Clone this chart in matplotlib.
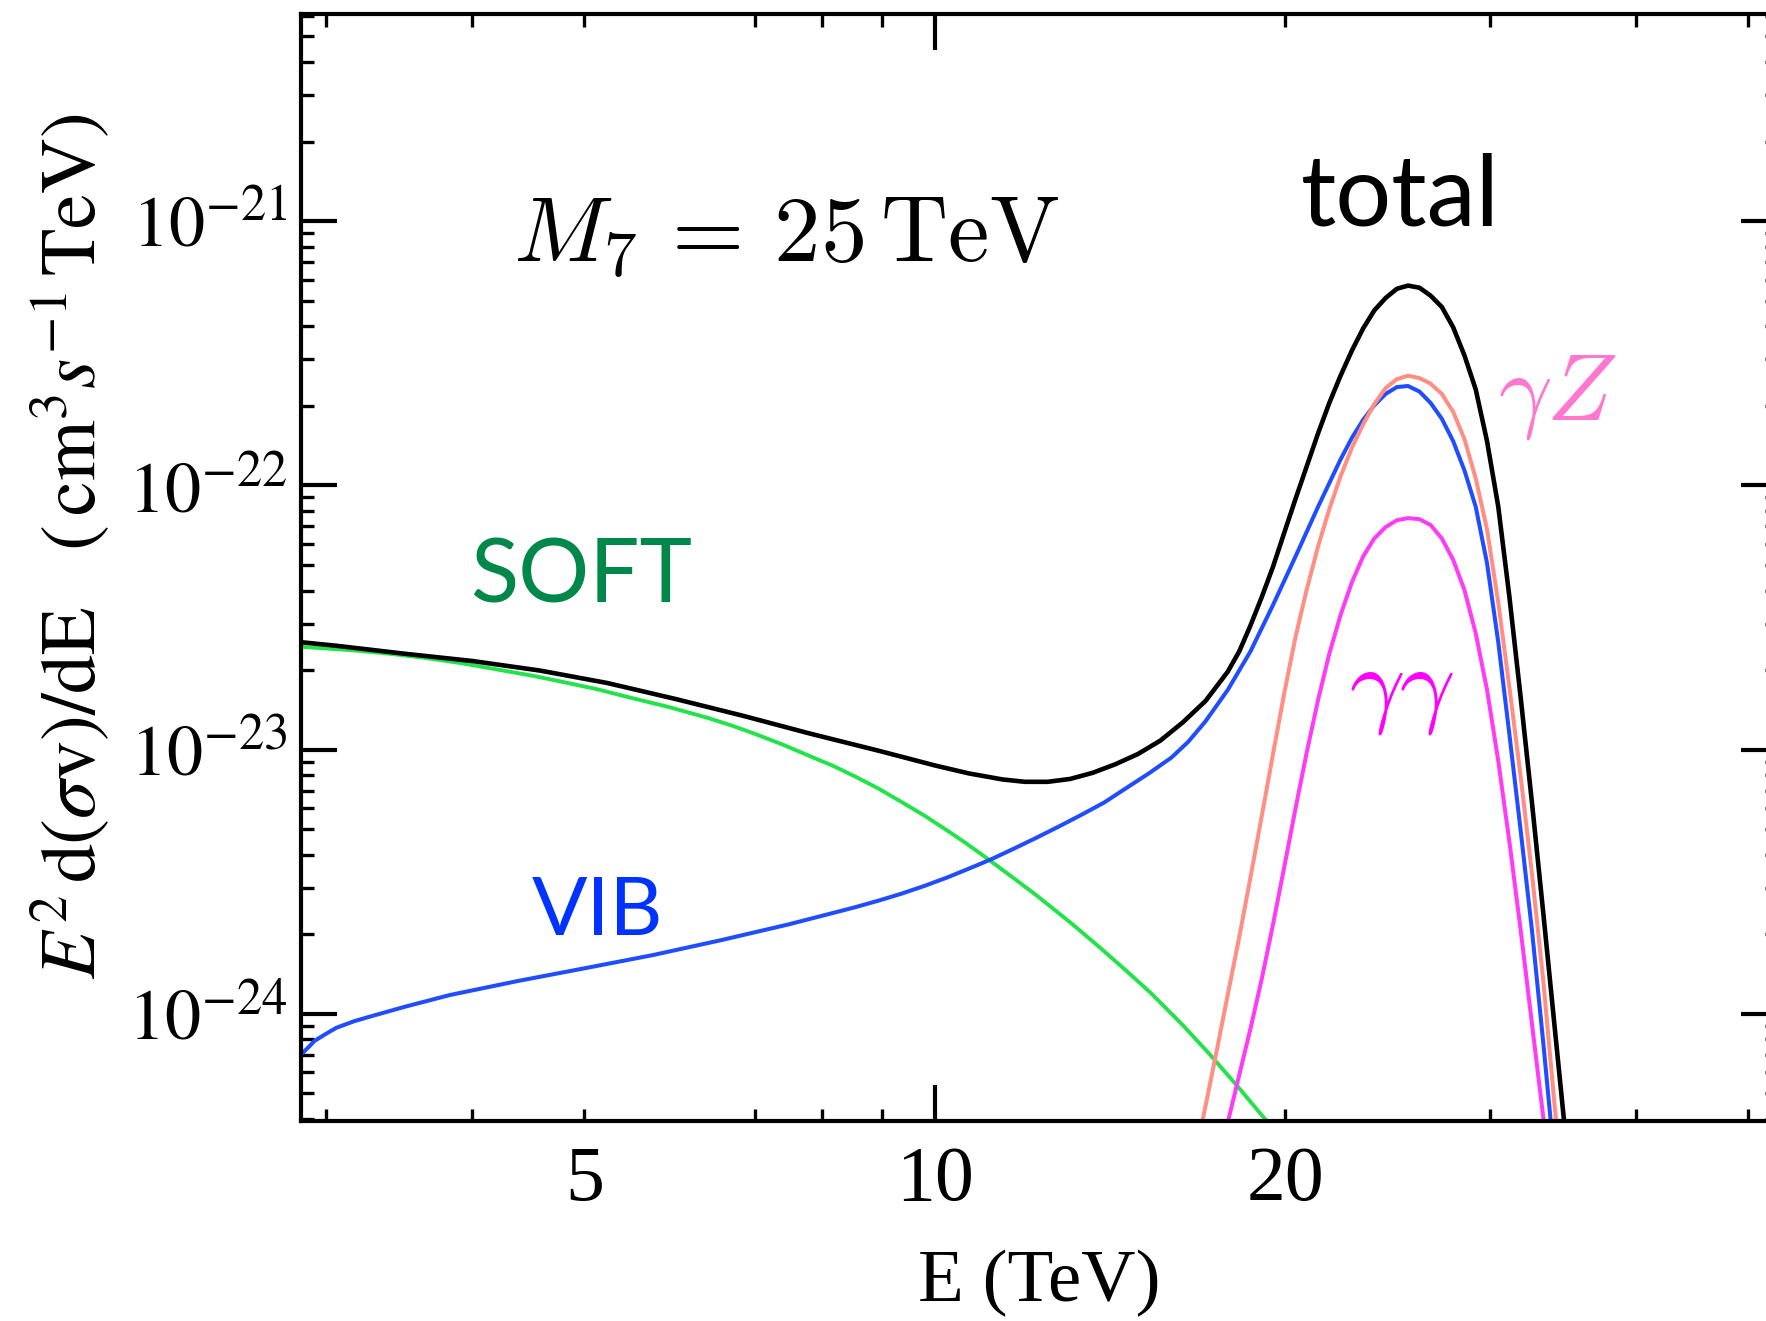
import numpy as np
import matplotlib
matplotlib.use("Agg")
import matplotlib.pyplot as plt
from matplotlib.ticker import FixedLocator, FixedFormatter, FuncFormatter, LogLocator, NullFormatter

# Spectrum E^2 d(sigma v)/dE for M7 = 25 TeV
# energies in TeV, fluxes given as log10 of cm^3 s^-1 TeV

total_E = [2.86, 3.06, 3.50, 4.01, 4.58, 5.23, 5.98, 6.84, 7.82, 8.94, 10.00, 10.69, 11.43,
           11.95, 12.50, 13.07, 13.66, 14.28, 14.94, 15.62, 16.33, 17.08, 17.85, 18.26, 18.67,
           19.09, 19.52, 19.96, 20.41, 20.87, 21.34, 21.82, 22.31, 22.81, 23.33, 23.85, 24.39,
           24.94, 25.50, 26.08, 26.66, 27.26, 27.88, 28.51, 29.15, 29.81, 30.48, 31.16, 31.87,
           32.58, 33.32, 34.07, 34.84]
total_logflux = [-22.594, -22.607, -22.637, -22.665, -22.701, -22.748, -22.808, -22.872, -22.940,
                 -23.004, -23.060, -23.090, -23.113, -23.122, -23.122, -23.111, -23.088, -23.056,
                 -23.017, -22.966, -22.897, -22.816, -22.705, -22.628, -22.530, -22.423, -22.308,
                 -22.179, -22.051, -21.927, -21.803, -21.688, -21.585, -21.491, -21.406, -21.338,
                 -21.291, -21.256, -21.244, -21.252, -21.282, -21.325, -21.402, -21.509, -21.637,
                 -21.833, -22.081, -22.423, -22.808, -23.201, -23.620, -24.047, -24.474]

vib_E = [2.86, 2.90, 2.93, 3.00, 3.06, 3.17, 3.28, 3.50, 3.83, 4.38, 5.01, 5.72, 6.54, 7.48,
         8.18, 8.55, 8.94, 9.35, 9.78, 10.22, 10.69, 11.18, 11.69, 12.22, 12.78, 13.36, 13.97,
         14.61, 15.27, 15.97, 16.51, 17.08, 17.85, 18.67, 19.52, 20.41, 21.34, 22.31, 22.81,
         23.33, 23.85, 24.39, 24.94, 25.50, 26.08, 26.66, 27.26, 27.88, 28.51, 29.15, 29.81,
         30.48, 31.16, 31.87, 32.58, 33.32, 34.07]
vib_logflux = [-24.150, -24.124, -24.103, -24.075, -24.053, -24.028, -24.009, -23.974, -23.929,
               -23.876, -23.827, -23.778, -23.722, -23.662, -23.618, -23.596, -23.572, -23.546,
               -23.517, -23.486, -23.451, -23.415, -23.375, -23.334, -23.291, -23.247, -23.201,
               -23.145, -23.090, -23.030, -22.970, -22.893, -22.774, -22.628, -22.453, -22.269,
               -22.081, -21.902, -21.821, -21.752, -21.697, -21.654, -21.628, -21.624, -21.645,
               -21.688, -21.748, -21.833, -21.944, -22.081, -22.295, -22.594, -22.944, -23.312,
               -23.684, -24.111, -24.560]

soft_E = [2.86, 3.06, 3.20, 3.43, 3.66, 3.92, 4.26, 4.53, 4.79, 5.12, 5.47, 5.92, 6.38, 6.70,
          7.00, 7.40, 7.82, 8.18, 8.55, 8.94, 9.35, 9.78, 10.22, 10.60, 11.01, 11.69, 12.22,
          13.07, 13.85, 14.61, 15.31, 16.33, 17.23, 18.26, 19.17, 20.63]
soft_logflux = [-22.611, -22.620, -22.626, -22.639, -22.654, -22.673, -22.701, -22.722, -22.744,
                -22.771, -22.803, -22.840, -22.880, -22.910, -22.940, -22.981, -23.026, -23.062,
                -23.103, -23.147, -23.197, -23.248, -23.303, -23.350, -23.402, -23.487, -23.551,
                -23.654, -23.748, -23.838, -23.919, -24.043, -24.154, -24.282, -24.393, -24.560]

gz_E = [16.70, 17.00, 17.46, 17.85, 18.26, 18.67, 19.09, 19.52, 19.96, 20.41, 20.87, 21.34,
        21.82, 22.31, 22.81, 23.33, 23.85, 24.39, 24.94, 25.50, 26.08, 26.66, 27.26, 27.88,
        28.51, 29.15, 29.81, 30.48, 31.16, 31.87, 32.58, 33.32, 34.07, 34.45]
gz_logflux = [-24.560, -24.393, -24.141, -23.927, -23.709, -23.483, -23.252, -23.017, -22.786,
              -22.573, -22.393, -22.231, -22.090, -21.966, -21.859, -21.769, -21.692, -21.632,
              -21.598, -21.585, -21.594, -21.615, -21.654, -21.722, -21.825, -21.974, -22.167,
              -22.444, -22.765, -23.107, -23.470, -23.876, -24.346, -24.560]

gg_E = [17.54, 17.89, 18.26, 18.67, 19.09, 19.52, 19.96, 20.41, 20.87, 21.34, 21.82, 22.31,
        22.81, 23.33, 23.85, 24.39, 24.94, 25.50, 26.08, 26.66, 27.26, 27.88, 28.51, 29.15,
        29.81, 30.48, 31.16, 31.87, 32.58, 33.32, 33.69]
gg_logflux = [-24.560, -24.393, -24.231, -24.056, -23.868, -23.662, -23.444, -23.222, -23.009,
              -22.812, -22.637, -22.491, -22.368, -22.269, -22.201, -22.158, -22.132, -22.124,
              -22.128, -22.150, -22.201, -22.282, -22.397, -22.560, -22.774, -23.043, -23.350,
              -23.688, -24.038, -24.393, -24.568]

y_ticks = [1e-24, 1e-23, 1e-22, 1e-21]
y_tick_labels = [r"$10^{-24}$", r"$10^{-23}$", r"$10^{-22}$", r"$10^{-21}$"]

plt.rcParams["mathtext.fontset"] = "stix"
plt.rcParams["font.family"] = "Liberation Serif"

fig = plt.figure(figsize=(17.66, 13.21), dpi=100)
ax = fig.add_axes([0.17027, 0.15163, 0.83595, 0.83777])

ax.plot(soft_E, 10.0 ** np.array(soft_logflux), color="#22e44a", lw=2.8)
ax.plot(vib_E, 10.0 ** np.array(vib_logflux), color="#1f4dff", lw=2.9)
ax.plot(gz_E, 10.0 ** np.array(gz_logflux), color="#ff8f84", lw=2.9)
ax.plot(gg_E, 10.0 ** np.array(gg_logflux), color="#ff3cf5", lw=2.9)
ax.plot(total_E, 10.0 ** np.array(total_logflux), color="black", lw=3.3)

ax.set_xscale("log")
ax.set_yscale("log")
ax.set_xlim(2.852, 52.9)
ax.set_ylim(3.94e-25, 6.08e-21)

for sp in ax.spines.values():
    sp.set_linewidth(3)

# x axis: long tick at 10, short ones elsewhere (5 and 20 labelled)
ax.xaxis.set_major_locator(FixedLocator([10]))
ax.xaxis.set_major_formatter(FuncFormatter(lambda v, p: "%g" % v))
ax.xaxis.set_minor_locator(FixedLocator([3, 4, 5, 7, 8, 9, 20, 30, 40, 50]))
ax.xaxis.set_minor_formatter(FuncFormatter(lambda v, p: "%g" % v if v in (5, 20) else ""))

ax.yaxis.set_major_locator(FixedLocator(y_ticks))
ax.yaxis.set_major_formatter(FixedFormatter(y_tick_labels))
ax.yaxis.set_minor_locator(LogLocator(base=10, subs=range(2, 10), numticks=20))
ax.yaxis.set_minor_formatter(NullFormatter())

ax.tick_params(which="both", direction="in", top=True, right=True)
ax.tick_params(which="major", length=26, width=3)
ax.tick_params(which="minor", length=9, width=2.4)
ax.tick_params(axis="x", which="both", labelsize=56, pad=18)
ax.tick_params(axis="y", which="both", labelsize=52, pad=10)

ax.set_xlabel("E (TeV)", fontsize=54)
ax.xaxis.set_label_coords(0.5, -0.117)
ax.text(-0.156, 0.519,
        r"$E^2\,\mathrm{d}(\sigma\mathrm{v})/\mathrm{dE}\quad(\,\mathrm{cm}^3 s^{-1}\,\mathrm{TeV})$",
        transform=ax.transAxes, rotation=90, ha="center", va="center", fontsize=56)

ax.text(0.1435, 0.7766, r"$M_7\,=\,25\,\mathrm{TeV}$", transform=ax.transAxes,
        fontsize=67, math_fontfamily="cm", ha="left", va="baseline")
ax.text(0.6776, 0.8093, "total", transform=ax.transAxes, fontsize=71,
        family="Lato", color="black", ha="left", va="baseline")
ax.text(0.1145, 0.4682, "SOFT", transform=ax.transAxes, fontsize=64,
        family="Lato", color="#00884a", ha="left", va="baseline")
ax.text(0.1564, 0.1680, "VIB", transform=ax.transAxes, fontsize=59,
        family="Lato", color="#0033ff", ha="left", va="baseline")
ax.text(0.811, 0.634, r"$\gamma Z$", transform=ax.transAxes, fontsize=68,
        math_fontfamily="cm", color="#ff78cf", ha="left", va="baseline")
ax.text(0.710, 0.3667, r"$\gamma\gamma$", transform=ax.transAxes, fontsize=70,
        math_fontfamily="cm", color="#ff00ff", ha="left", va="baseline")

fig.savefig("out.png", dpi=100)
